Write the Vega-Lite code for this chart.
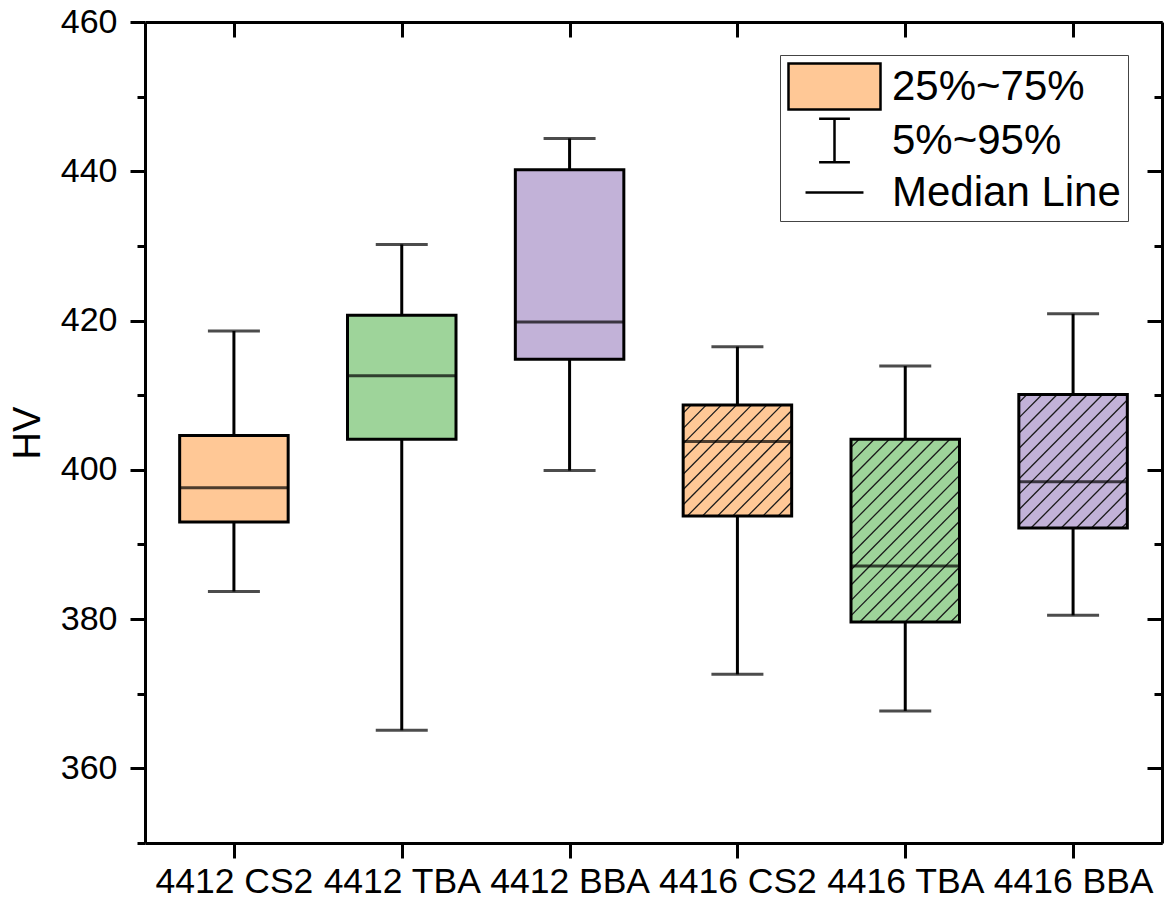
{
  "$schema": "https://vega.github.io/schema/vega-lite/v6.json",
  "width": 1017,
  "height": 821,
  "autosize": {"type": "none"},
  "padding": {"left": 145, "top": 22, "right": 7, "bottom": 64},
  "background": "white",
  "config": {
    "view": {"stroke": null},
    "font": "Liberation Sans",
    "axis": {"labelFont": "Liberation Sans", "titleFont": "Liberation Sans", "labelColor": "black", "titleColor": "black", "domainColor": "black", "tickColor": "black", "grid": false}
  },
  "datasets": {
    "boxes": [
      {"sample": "4412 CS2", "cond": "CS2", "pos": 1, "lo": 383.7, "q1": 393.0, "med": 397.6, "q3": 404.6, "hi": 418.6},
      {"sample": "4412 TBA", "cond": "TBA", "pos": 2, "lo": 365.1, "q1": 404.1, "med": 412.6, "q3": 420.7, "hi": 430.2},
      {"sample": "4412 BBA", "cond": "BBA", "pos": 3, "lo": 399.9, "q1": 414.8, "med": 419.8, "q3": 440.2, "hi": 444.4},
      {"sample": "4416 CS2", "cond": "CS2", "pos": 4, "lo": 372.6, "q1": 393.8, "med": 403.8, "q3": 408.7, "hi": 416.5},
      {"sample": "4416 TBA", "cond": "TBA", "pos": 5, "lo": 367.7, "q1": 379.6, "med": 387.1, "q3": 404.1, "hi": 413.9},
      {"sample": "4416 BBA", "cond": "BBA", "pos": 6, "lo": 380.5, "q1": 392.2, "med": 398.4, "q3": 410.1, "hi": 420.9}
    ],
    "hatch": [
      {"x1": 3.7251, "y1": 408.7, "x2": 3.68, "y2": 407.675},
      {"x1": 3.8152, "y1": 408.7, "x2": 3.68, "y2": 405.625},
      {"x1": 3.9053, "y1": 408.7, "x2": 3.68, "y2": 403.575},
      {"x1": 3.9954, "y1": 408.7, "x2": 3.68, "y2": 401.526},
      {"x1": 4.0855, "y1": 408.7, "x2": 3.68, "y2": 399.476},
      {"x1": 4.1756, "y1": 408.7, "x2": 3.68, "y2": 397.426},
      {"x1": 4.2657, "y1": 408.7, "x2": 3.68, "y2": 395.376},
      {"x1": 4.32, "y1": 407.885, "x2": 3.7009, "y2": 393.8},
      {"x1": 4.32, "y1": 405.836, "x2": 3.791, "y2": 393.8},
      {"x1": 4.32, "y1": 403.786, "x2": 3.8811, "y2": 393.8},
      {"x1": 4.32, "y1": 401.736, "x2": 3.9712, "y2": 393.8},
      {"x1": 4.32, "y1": 399.686, "x2": 4.0613, "y2": 393.8},
      {"x1": 4.32, "y1": 397.636, "x2": 4.1514, "y2": 393.8},
      {"x1": 4.32, "y1": 395.586, "x2": 4.2415, "y2": 393.8},
      {"x1": 4.7251, "y1": 404.1, "x2": 4.68, "y2": 403.075},
      {"x1": 4.8152, "y1": 404.1, "x2": 4.68, "y2": 401.025},
      {"x1": 4.9053, "y1": 404.1, "x2": 4.68, "y2": 398.975},
      {"x1": 4.9954, "y1": 404.1, "x2": 4.68, "y2": 396.925},
      {"x1": 5.0855, "y1": 404.1, "x2": 4.68, "y2": 394.876},
      {"x1": 5.1756, "y1": 404.1, "x2": 4.68, "y2": 392.826},
      {"x1": 5.2657, "y1": 404.1, "x2": 4.68, "y2": 390.776},
      {"x1": 5.32, "y1": 403.285, "x2": 4.68, "y2": 388.726},
      {"x1": 5.32, "y1": 401.236, "x2": 4.68, "y2": 386.676},
      {"x1": 5.32, "y1": 399.186, "x2": 4.68, "y2": 384.626},
      {"x1": 5.32, "y1": 397.136, "x2": 4.68, "y2": 382.576},
      {"x1": 5.32, "y1": 395.086, "x2": 4.68, "y2": 380.526},
      {"x1": 5.32, "y1": 393.036, "x2": 4.7293, "y2": 379.6},
      {"x1": 5.32, "y1": 390.986, "x2": 4.8194, "y2": 379.6},
      {"x1": 5.32, "y1": 388.936, "x2": 4.9096, "y2": 379.6},
      {"x1": 5.32, "y1": 386.886, "x2": 4.9997, "y2": 379.6},
      {"x1": 5.32, "y1": 384.836, "x2": 5.0898, "y2": 379.6},
      {"x1": 5.32, "y1": 382.787, "x2": 5.1799, "y2": 379.6},
      {"x1": 5.32, "y1": 380.737, "x2": 5.27, "y2": 379.6},
      {"x1": 5.7251, "y1": 410.1, "x2": 5.68, "y2": 409.075},
      {"x1": 5.8152, "y1": 410.1, "x2": 5.68, "y2": 407.025},
      {"x1": 5.9053, "y1": 410.1, "x2": 5.68, "y2": 404.975},
      {"x1": 5.9954, "y1": 410.1, "x2": 5.68, "y2": 402.925},
      {"x1": 6.0855, "y1": 410.1, "x2": 5.68, "y2": 400.876},
      {"x1": 6.1756, "y1": 410.1, "x2": 5.68, "y2": 398.826},
      {"x1": 6.2657, "y1": 410.1, "x2": 5.68, "y2": 396.776},
      {"x1": 6.32, "y1": 409.285, "x2": 5.68, "y2": 394.726},
      {"x1": 6.32, "y1": 407.236, "x2": 5.68, "y2": 392.676},
      {"x1": 6.32, "y1": 405.186, "x2": 5.7492, "y2": 392.2},
      {"x1": 6.32, "y1": 403.136, "x2": 5.8393, "y2": 392.2},
      {"x1": 6.32, "y1": 401.086, "x2": 5.9294, "y2": 392.2},
      {"x1": 6.32, "y1": 399.036, "x2": 6.0195, "y2": 392.2},
      {"x1": 6.32, "y1": 396.986, "x2": 6.1096, "y2": 392.2},
      {"x1": 6.32, "y1": 394.936, "x2": 6.1997, "y2": 392.2},
      {"x1": 6.32, "y1": 392.886, "x2": 6.2898, "y2": 392.2}
    ],
    "legendItems": [
      {"k": "25%~75%"},
      {"k": "5%~95%"},
      {"k": "Median Line"}
    ]
  },
  "resolve": {"axis": {"x": "independent", "y": "independent"}},
  "layer": [
    {
      "data": {"name": "boxes"},
      "mark": {"type": "bar", "size": 108.5},
      "encoding": {
        "x": {
          "field": "pos", "type": "quantitative",
          "scale": {"domain": [0.5, 6.5], "nice": false, "zero": false},
          "axis": {
            "orient": "bottom", "values": [1, 2, 3, 4, 5, 6],
            "labelExpr": "['4412 CS2','4412 TBA','4412 BBA','4416 CS2','4416 TBA','4416 BBA'][datum.value-1]",
            "title": null, "tickSize": 15, "tickWidth": 3, "domainWidth": 3,
            "labelFontSize": 35.5, "labelPadding": 6, "labelFlush": false, "labelOverlap": false, "labelBound": false
          }
        },
        "y": {
          "field": "q1", "type": "quantitative",
          "scale": {"domain": [350, 460], "nice": false, "zero": false},
          "axis": {
            "orient": "left",
            "values": [350, 360, 370, 380, 390, 400, 410, 420, 430, 440, 450, 460],
            "labelExpr": "datum.value % 20 === 0 ? datum.label : ''",
            "tickSize": {"condition": {"test": "datum.value % 20 === 0", "value": 15}, "value": 8},
            "tickWidth": 3, "domainWidth": 3,
            "labelFontSize": 34, "labelPadding": 13, "labelOverlap": false, "labelFlush": false,
            "title": "HV", "titleFontSize": 38, "titleFontWeight": "normal", "titlePadding": 13
          }
        },
        "y2": {"field": "q3"},
        "color": {
          "field": "cond", "type": "nominal",
          "scale": {"domain": ["CS2", "TBA", "BBA"], "range": ["#FFC896", "#9ED49A", "#C2B2D8"]},
          "legend": null
        }
      }
    },
    {
      "data": {"name": "hatch"},
      "mark": {"type": "rule", "stroke": "#1a1a1a", "strokeWidth": 1.3},
      "encoding": {
        "x": {"field": "x1", "type": "quantitative", "axis": null},
        "y": {"field": "y1", "type": "quantitative", "axis": null},
        "x2": {"field": "x2"},
        "y2": {"field": "y2"}
      }
    },
    {
      "data": {"name": "boxes"},
      "mark": {"type": "bar", "size": 108.5, "fill": "white", "fillOpacity": 0, "stroke": "black", "strokeWidth": 3},
      "encoding": {
        "x": {
          "field": "pos", "type": "quantitative",
          "axis": {"orient": "top", "values": [1, 2, 3, 4, 5, 6], "labels": false, "title": null, "tickSize": -15, "tickWidth": 3, "domainWidth": 3}
        },
        "y": {
          "field": "q1", "type": "quantitative",
          "axis": {
            "orient": "right",
            "values": [350, 360, 370, 380, 390, 400, 410, 420, 430, 440, 450, 460],
            "labels": false, "title": null,
            "tickSize": {"condition": {"test": "datum.value % 20 === 0", "value": -15}, "value": -8},
            "tickWidth": 3, "domainWidth": 3
          }
        },
        "y2": {"field": "q3"}
      }
    },
    {
      "data": {"name": "boxes"},
      "mark": {"type": "tick", "orient": "horizontal", "size": 108.5, "thickness": 3, "color": "black"},
      "encoding": {
        "x": {"field": "pos", "type": "quantitative", "axis": null},
        "y": {"field": "med", "type": "quantitative", "axis": null}
      }
    },
    {
      "data": {"name": "boxes"},
      "mark": {"type": "rule", "stroke": "black", "strokeWidth": 3},
      "encoding": {
        "x": {"field": "pos", "type": "quantitative", "axis": null},
        "y": {"field": "lo", "type": "quantitative", "axis": null},
        "y2": {"field": "q1"}
      }
    },
    {
      "data": {"name": "boxes"},
      "mark": {"type": "rule", "stroke": "black", "strokeWidth": 3},
      "encoding": {
        "x": {"field": "pos", "type": "quantitative", "axis": null},
        "y": {"field": "q3", "type": "quantitative", "axis": null},
        "y2": {"field": "hi"}
      }
    },
    {
      "data": {"name": "boxes"},
      "mark": {"type": "tick", "orient": "horizontal", "size": 52, "thickness": 3, "color": "black"},
      "encoding": {
        "x": {"field": "pos", "type": "quantitative", "axis": null},
        "y": {"field": "lo", "type": "quantitative", "axis": null}
      }
    },
    {
      "data": {"name": "boxes"},
      "mark": {"type": "tick", "orient": "horizontal", "size": 52, "thickness": 3, "color": "black"},
      "encoding": {
        "x": {"field": "pos", "type": "quantitative", "axis": null},
        "y": {"field": "hi", "type": "quantitative", "axis": null}
      }
    },
    {
      "data": {"name": "legendItems"},
      "mark": {"type": "point", "opacity": 0, "filled": true, "fill": "#FFC896", "stroke": "black", "strokeWidth": 2.5},
      "encoding": {
        "shape": {
          "field": "k", "type": "nominal",
          "scale": {
            "domain": ["25%~75%", "5%~95%", "Median Line"],
            "range": ["M-1,-1H3V1H-1Z", "M0.33,-0.95H1.67M1,-0.95V0.95M0.33,0.95H1.67", "M-0.26,0H2.26"]
          },
          "legend": {
            "orient": "none", "legendX": 635, "legendY": 33, "title": null,
            "labelFontSize": 42, "labelFont": "Liberation Sans", "labelColor": "black", "labelLimit": 0,
            "symbolSize": 2116, "symbolStrokeWidth": 2.5, "symbolFillColor": "#FFC896", "symbolOpacity": 1,
            "strokeColor": "#444444", "fillColor": "white", "padding": 7, "rowPadding": -2, "labelOffset": 56,
            "encode": {
              "symbols": {
                "stroke": {"value": "black"},
                "strokeWidth": {"value": 2.5},
                "strokeOpacity": {"value": 1}
              }
            }
          }
        }
      }
    }
  ]
}
